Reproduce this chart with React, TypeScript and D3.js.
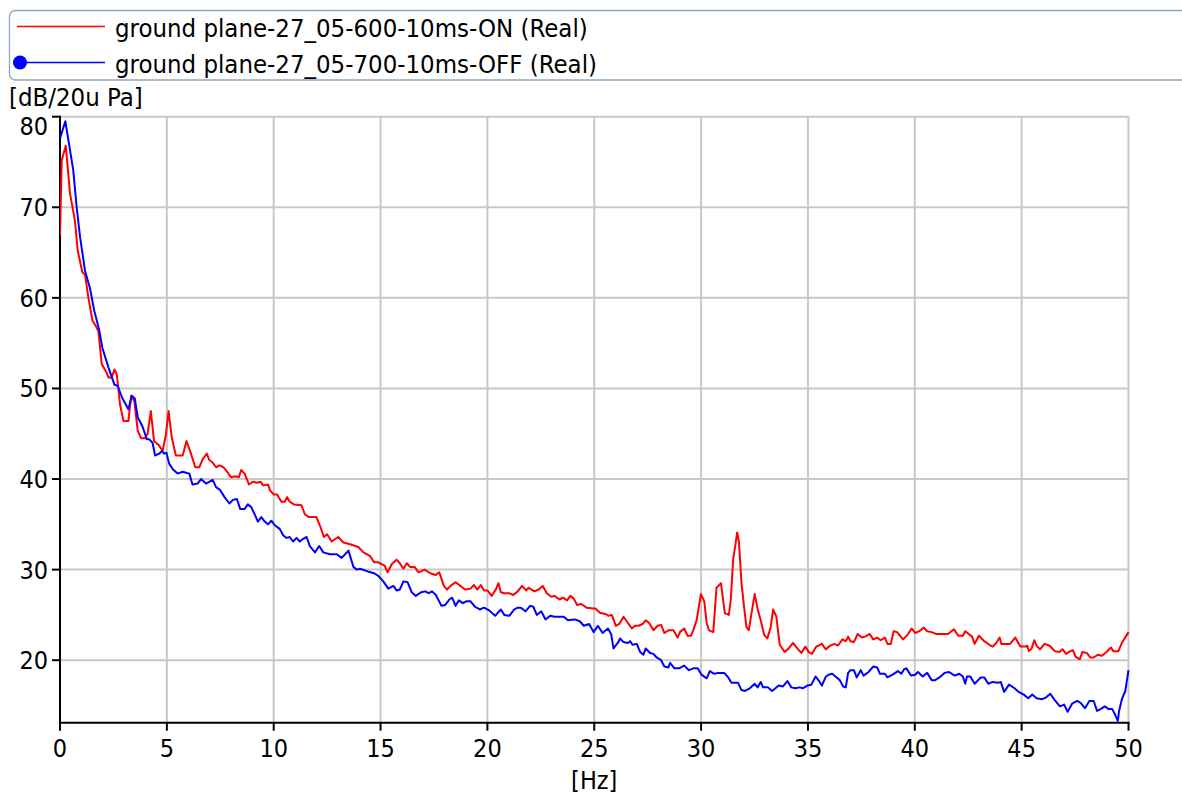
import React from "react";
import * as d3 from "d3";

const X_TICKS = [0, 5, 10, 15, 20, 25, 30, 35, 40, 45, 50];
const Y_TICKS = [20, 30, 40, 50, 60, 70, 80];
const SERIES_NAMES = [
  "ground plane-27_05-600-10ms-ON (Real)",
  "ground plane-27_05-700-10ms-OFF (Real)",
];
const X_LABEL = "[Hz]";
const Y_LABEL = "[dB/20u Pa]";

const ON_HZ = [
  0.0, 0.08, 0.27, 0.47, 0.7, 0.83, 1.05, 1.17, 1.33, 1.52, 1.72, 1.8, 1.95, 2.19, 2.27, 2.42, 2.55, 2.66, 2.81, 2.97,
  3.2, 3.33, 3.48, 3.64, 3.8, 3.98, 4.1, 4.25, 4.4, 4.64, 4.8, 4.95, 5.08, 5.23, 5.42, 5.58, 5.74, 5.92, 6.13, 6.33,
  6.52, 6.68, 6.87, 6.99, 7.15, 7.3, 7.46, 7.65, 7.85, 8.0, 8.2, 8.37, 8.48, 8.64, 8.84, 9.03, 9.22, 9.39, 9.5, 9.73,
  9.84, 10.0, 10.16, 10.36, 10.52, 10.63, 10.75, 10.94, 11.3, 11.46, 11.66, 12.0, 12.19, 12.35, 12.5, 12.71, 13.02,
  13.26, 13.57, 13.96, 14.2, 14.51, 14.7, 14.9, 15.05, 15.2, 15.33, 15.52, 15.75, 15.9, 16.07, 16.23, 16.38, 16.59,
  16.78, 17.06, 17.33, 17.56, 17.75, 17.96, 18.11, 18.27, 18.51, 18.74, 18.95, 19.21, 19.37, 19.53, 19.69, 19.84,
  20.0, 20.2, 20.39, 20.52, 20.63, 20.79, 21.02, 21.21, 21.42, 21.62, 21.81, 21.93, 22.2, 22.4, 22.59, 22.78, 22.99,
  23.14, 23.38, 23.54, 23.73, 23.88, 24.04, 24.2, 24.4, 24.64, 24.95, 25.05, 25.28, 25.54, 25.67, 25.82, 26.01, 26.17,
  26.37, 26.52, 26.76, 26.91, 27.07, 27.26, 27.41, 27.57, 27.77, 27.97, 28.13, 28.28, 28.47, 28.7, 28.9, 29.01, 29.21,
  29.37, 29.53, 29.63, 29.79, 29.99, 30.15, 30.26, 30.37, 30.57, 30.72, 30.93, 31.11, 31.3, 31.39, 31.5, 31.69, 31.77,
  31.89, 32.01, 32.12, 32.23, 32.36, 32.51, 32.64, 32.79, 32.95, 33.1, 33.26, 33.37, 33.52, 33.68, 33.91, 34.1, 34.3,
  34.5, 34.69, 34.88, 35.03, 35.19, 35.39, 35.65, 35.84, 36.03, 36.24, 36.4, 36.61, 36.77, 36.88, 36.99, 37.15, 37.33,
  37.52, 37.68, 37.89, 38.05, 38.24, 38.4, 38.6, 38.72, 38.88, 39.01, 39.17, 39.45, 39.66, 39.85, 40.02, 40.21, 40.42,
  40.58, 40.79, 40.99, 41.55, 41.83, 42.04, 42.25, 42.36, 42.57, 42.68, 42.8, 43.0, 43.25, 43.49, 43.65, 43.81, 43.97,
  44.05, 44.46, 44.7, 44.94, 45.15, 45.26, 45.34, 45.47, 45.59, 45.7, 45.86, 46.07, 46.31, 46.55, 46.76, 46.92, 47.08,
  47.28, 47.4, 47.52, 47.72, 47.84, 48.05, 48.21, 48.37, 48.56, 48.76, 48.97, 49.18, 49.29, 49.53, 49.69, 50.0,
];
const ON_DB = [
  66.9, 75.2, 76.8, 71.5, 68.5, 65.2, 62.8, 62.6, 60.0, 57.5, 56.7, 56.3, 52.7, 51.7, 51.2, 51.2, 52.1, 51.5, 48.2, 46.4,
  46.4, 49.2, 48.6, 45.3, 44.5, 44.5, 45.0, 47.5, 44.2, 43.7, 43.1, 44.8, 47.5, 44.6, 42.6, 42.6, 42.6, 44.2, 42.8, 41.3,
  41.3, 42.2, 42.8, 42.1, 41.8, 41.3, 41.5, 41.3, 40.7, 40.2, 40.3, 40.2, 41.0, 40.6, 39.4, 39.7, 39.6, 39.7, 39.3, 39.4,
  38.7, 38.3, 38.3, 37.5, 37.5, 38.0, 37.5, 37.2, 37.1, 36.1, 35.8, 35.8, 34.7, 33.6, 33.9, 33.1, 33.6,
  33.0, 32.8, 32.5, 31.9, 31.5, 30.8, 30.8, 30.6, 30.4, 29.7, 30.6, 31.1, 30.7, 30.1, 30.7, 30.3, 30.3,
  29.7, 30.0, 29.6, 29.4, 29.7, 28.2, 27.8, 28.2, 28.6, 28.2, 27.8, 27.9, 28.3, 27.8, 28.3, 27.7,
  27.7, 27.1, 27.8, 28.5, 27.5, 27.4, 27.4, 27.2, 27.6, 28.2, 27.7, 28.0, 27.6, 27.8, 28.2, 27.4, 27.0,
  27.1, 26.7, 26.9, 26.6, 27.1, 26.8, 26.1, 26.2, 25.8, 25.7, 25.7, 25.2, 25.1, 24.9, 25.0, 23.8, 24.0,
  24.8, 24.3, 23.5, 23.8, 23.8, 24.0, 24.4, 24.1, 23.3, 23.8, 23.9, 23.0, 23.3, 23.3, 22.5, 23.1, 23.5,
  22.7, 22.7, 23.3, 24.4, 27.3, 26.5, 24.1, 23.3, 23.1, 28.0, 28.5, 25.2, 25.0, 26.7, 31.1, 34.1, 33.1,
  28.5, 25.9, 23.7, 23.3, 25.2, 27.3, 25.7, 24.4, 22.8, 22.4, 23.7, 25.6, 24.8, 21.7, 20.9, 21.3, 21.9,
  21.3, 20.8, 21.5, 20.9, 20.7, 21.5, 21.8, 21.2, 21.6, 21.8, 21.6, 22.3, 22.1, 22.6, 22.1, 22.0, 22.9,
  22.5, 22.6, 22.9, 22.3, 22.5, 22.2, 22.5, 21.8, 21.8, 23.2, 23.1, 22.3, 22.8, 23.5, 23.0, 23.2, 23.6,
  23.2, 23.1, 22.9, 22.9, 23.4, 22.7, 22.7, 23.2, 22.8, 22.6, 21.8, 22.7, 22.1, 21.7, 21.5, 21.9, 22.5,
  21.8, 21.8, 22.5, 21.5, 21.5, 21.6, 21.0, 21.3, 22.2, 21.6, 21.2, 21.8, 21.6, 21.0, 20.9, 21.2, 20.7,
  21.0, 21.1, 20.4, 20.1, 20.9, 20.8, 20.3, 20.3, 20.6, 20.5, 20.9, 21.4, 21.0, 21.0, 21.9, 23.1,
];

const OFF_HZ = [
  0.0, 0.25, 0.62, 0.78, 0.94, 1.17, 1.4, 1.6, 1.83, 1.98, 2.27, 2.55, 2.7, 2.9, 3.2, 3.36, 3.5, 3.64, 3.86, 4.06,
  4.17, 4.33, 4.45, 4.64, 4.77, 4.87, 4.98, 5.11, 5.27, 5.5, 5.74, 5.9, 6.05, 6.2, 6.44, 6.6, 6.83, 7.15, 7.3, 7.49,
  7.7, 7.93, 8.09, 8.28, 8.43, 8.64, 8.79, 8.95, 9.11, 9.26, 9.42, 9.58, 9.73, 9.89, 10.05, 10.28, 10.44, 10.6, 10.75,
  10.91, 11.07, 11.22, 11.38, 11.54, 11.69, 11.93, 12.13, 12.32, 12.63, 12.95, 13.18, 13.5, 13.73, 13.89, 14.04, 14.4,
  14.7, 14.9, 15.13, 15.36, 15.6, 15.75, 15.9, 16.07, 16.27, 16.46, 16.65, 16.9, 17.09, 17.25, 17.41, 17.59, 17.85,
  18.03, 18.22, 18.35, 18.51, 18.66, 18.85, 19.01, 19.21, 19.42, 19.64, 19.84, 20.08, 20.36, 20.63, 20.79, 21.02,
  21.26, 21.42, 21.57, 21.78, 22.0, 22.15, 22.31, 22.52, 22.72, 22.94, 23.14, 23.38, 23.57, 23.77, 24.09, 24.32,
  24.51, 24.76, 24.97, 25.17, 25.39, 25.64, 25.79, 25.9, 26.1, 26.21, 26.37, 26.57, 26.68, 26.79, 26.99, 27.15, 27.3,
  27.41, 27.61, 27.77, 27.92, 28.13, 28.28, 28.47, 28.55, 28.75, 28.97, 29.21, 29.43, 29.63, 29.84, 30.02, 30.26,
  30.41, 30.61, 30.8, 31.08, 31.27, 31.42, 31.73, 31.89, 32.05, 32.28, 32.51, 32.64, 32.79, 32.9, 33.13, 33.32, 33.48,
  33.63, 33.83, 34.04, 34.22, 34.41, 34.61, 34.77, 34.97, 35.16, 35.36, 35.52, 35.65, 35.84, 35.97, 36.13, 36.29,
  36.49, 36.65, 36.77, 36.88, 36.99, 37.15, 37.28, 37.47, 37.6, 37.84, 38.05, 38.24, 38.37, 38.6, 38.72, 38.96, 39.21,
  39.37, 39.5, 39.61, 39.82, 40.02, 40.15, 40.37, 40.58, 40.79, 40.95, 41.15, 41.39, 41.6, 41.87, 42.08, 42.25, 42.36,
  42.44, 42.6, 42.8, 43.09, 43.25, 43.44, 43.65, 43.89, 44.02, 44.18, 44.41, 44.67, 44.86, 45.1, 45.31, 45.5, 45.7,
  45.96, 46.15, 46.34, 46.55, 46.79, 46.99, 47.15, 47.36, 47.6, 47.76, 47.96, 48.17, 48.37, 48.53, 48.69, 48.89, 49.08,
  49.24, 49.37, 49.5, 49.56, 49.69, 49.85, 50.0,
];
const OFF_DB = [
  77.6, 79.5, 74.1, 70.0, 66.7, 63.0, 61.1, 58.6, 56.5, 54.5, 52.3, 50.4, 50.3, 49.0, 47.7, 49.2, 48.9, 46.8, 45.8, 44.4,
  44.4, 44.0, 42.6, 42.8, 43.1, 42.8, 42.9, 41.7, 41.1, 40.6, 40.8, 40.7, 40.6, 39.4, 39.5, 40.0, 39.5, 39.9, 39.1, 38.8,
  38.0, 37.3, 37.7, 37.8, 36.7, 36.7, 37.2, 36.9, 36.1, 35.3, 35.8, 35.3, 35.0, 35.4, 34.9, 34.5, 33.8, 33.5, 33.6,
  33.1, 33.5, 33.1, 33.4, 33.6, 32.6, 31.9, 32.6, 31.9, 31.7, 31.7, 31.3, 32.1, 30.3, 30.0, 30.1, 29.8,
  29.6, 29.3, 28.7, 27.9, 28.2, 27.7, 27.8, 28.7, 28.6, 27.5, 27.1, 27.5, 27.6, 27.4, 27.6, 27.2, 26.0,
  26.1, 26.7, 26.9, 26.0, 26.6, 26.3, 26.5, 26.5, 25.9, 25.6, 25.8, 25.5, 24.9, 25.6, 25.0, 24.9,
  25.6, 25.8, 25.8, 25.4, 26.0, 25.9, 25.0, 25.4, 24.5, 24.9, 24.8, 24.8, 24.8, 24.4, 24.5, 24.3,
  23.8, 24.0, 23.1, 23.8, 23.0, 23.5, 22.9, 21.3, 21.9, 22.4, 22.0, 21.9, 22.1, 21.7, 21.8, 20.9, 20.6,
  21.3, 20.8, 20.7, 20.3, 20.0, 19.3, 19.2, 19.7, 19.1, 19.1, 19.4, 18.9, 19.1, 19.1, 18.4, 18.0,
  18.8, 18.5, 18.6, 18.6, 18.1, 17.5, 17.5, 16.7, 16.6, 16.9, 17.4, 17.0, 17.6, 17.0, 17.0, 16.6, 16.9,
  17.2, 17.1, 17.7, 17.0, 16.9, 17.0, 16.9, 17.2, 17.3, 18.2, 17.7, 17.2, 18.2, 18.4, 18.5, 18.2,
  17.8, 17.1, 17.0, 18.6, 18.9, 18.9, 18.1, 18.9, 18.3, 18.7, 19.3, 19.2, 18.5, 18.5, 18.1, 18.4, 18.8,
  18.5, 19.0, 19.1, 18.3, 18.4, 18.7, 18.2, 18.6, 17.8, 17.8, 18.1, 18.6, 18.7, 18.3, 18.5, 18.2, 17.4,
  18.2, 18.2, 17.4, 18.1, 18.1, 17.4, 17.6, 17.5, 17.6, 16.5, 17.3, 16.9, 16.5, 16.2, 15.8, 16.2, 15.8,
  15.7, 15.9, 16.3, 15.6, 14.9, 15.1, 14.3, 15.2, 15.5, 15.3, 14.7, 15.5, 15.5, 14.4, 14.6, 14.9, 14.6,
  14.6, 14.0, 13.3, 14.4, 15.7, 16.6, 18.9,
];

const FONT = "'DejaVu Sans Condensed', 'DejaVu Sans', sans-serif";
const W = 1182;
const H = 796;
const M = { left: 60, right: 1128.5, top: 116.7, bottom: 722.7 };

export default function App() {
  const x = d3.scaleLinear().domain([0, 50]).range([M.left, M.right]);
  const y = d3.scaleLinear().domain([13.1, 80]).range([M.bottom, M.top]);
  const line = d3
    .line<[number, number]>()
    .x((d) => x(d[0]))
    .y((d) => y(d[1]));
  const onPts = ON_HZ.map((f, i) => [f, ON_DB[i]] as [number, number]);
  const offPts = OFF_HZ.map((f, i) => [f, OFF_DB[i]] as [number, number]);
  const grid = "#c8c8c8";

  return (
    <svg
      width={W}
      height={H}
      style={{ position: "absolute", left: 0, top: 0, background: "#fff" }}
      fontFamily={FONT}
      fontStretch="condensed"
    >
      <rect x={0} y={0} width={W} height={H} fill="#fff" />
      {/* legend */}
      <rect x={9.5} y={10.5} width={1200} height={69.5} rx={6} fill="#fff" stroke="#8aa6c8" strokeWidth={1.3} />
      <line x1={17} x2={105} y1={26.5} y2={26.5} stroke="#ff0000" strokeWidth={1.6} />
      <text x={115} y={37} fontSize={25.5} fill="#000">{SERIES_NAMES[0]}</text>
      <line x1={20} x2={105} y1={62.5} y2={62.5} stroke="#0000ff" strokeWidth={1.6} />
      <circle cx={20} cy={62.5} r={7} fill="#0000ff" />
      <text x={115} y={73} fontSize={25.5} fill="#000">{SERIES_NAMES[1]}</text>

      <text x={9} y={106} fontSize={25.5} fill="#000">{Y_LABEL}</text>

      {/* grid */}
      {X_TICKS.filter((t) => t > 0).map((t) => (
        <line key={"gx" + t} x1={x(t)} x2={x(t)} y1={M.top} y2={M.bottom} stroke={grid} strokeWidth={2} />
      ))}
      {Y_TICKS.map((t) => (
        <line key={"gy" + t} x1={M.left} x2={M.right} y1={y(t)} y2={y(t)} stroke={grid} strokeWidth={2} />
      ))}

      {/* axes */}
      <line x1={M.left} x2={M.left} y1={M.top - 1} y2={M.bottom + 1} stroke="#000" strokeWidth={2} />
      <line x1={M.left - 1} x2={M.right + 1} y1={M.bottom} y2={M.bottom} stroke="#000" strokeWidth={2} />
      {Y_TICKS.map((t) => (
        <g key={"yt" + t}>
          <line x1={M.left - 8} x2={M.left} y1={y(t)} y2={y(t)} stroke="#000" strokeWidth={2} />
          <text
            x={48}
            y={Math.max(y(t), M.top + 9) + 9}
            fontSize={25}
            textAnchor="end"
            fill="#000"
          >
            {t}
          </text>
        </g>
      ))}
      {X_TICKS.map((t) => (
        <g key={"xt" + t}>
          <line x1={x(t)} x2={x(t)} y1={M.bottom} y2={M.bottom + 8} stroke="#000" strokeWidth={2} />
          <text x={x(t)} y={757} fontSize={25} textAnchor="middle" fill="#000">
            {t}
          </text>
        </g>
      ))}
      <text x={(M.left + M.right) / 2} y={789} fontSize={25} textAnchor="middle" fill="#000">
        {X_LABEL}
      </text>

      {/* data */}
      <defs>
        <clipPath id="plotclip">
          <rect x={M.left} y={M.top - 2} width={M.right - M.left + 2} height={M.bottom - M.top + 2} />
        </clipPath>
      </defs>
      <g clipPath="url(#plotclip)">
        <path d={line(onPts) || ""} fill="none" stroke="#ff0000" strokeWidth={2} strokeLinejoin="round" />
        <path d={line(offPts) || ""} fill="none" stroke="#0000ff" strokeWidth={2} strokeLinejoin="round" />
      </g>
    </svg>
  );
}
